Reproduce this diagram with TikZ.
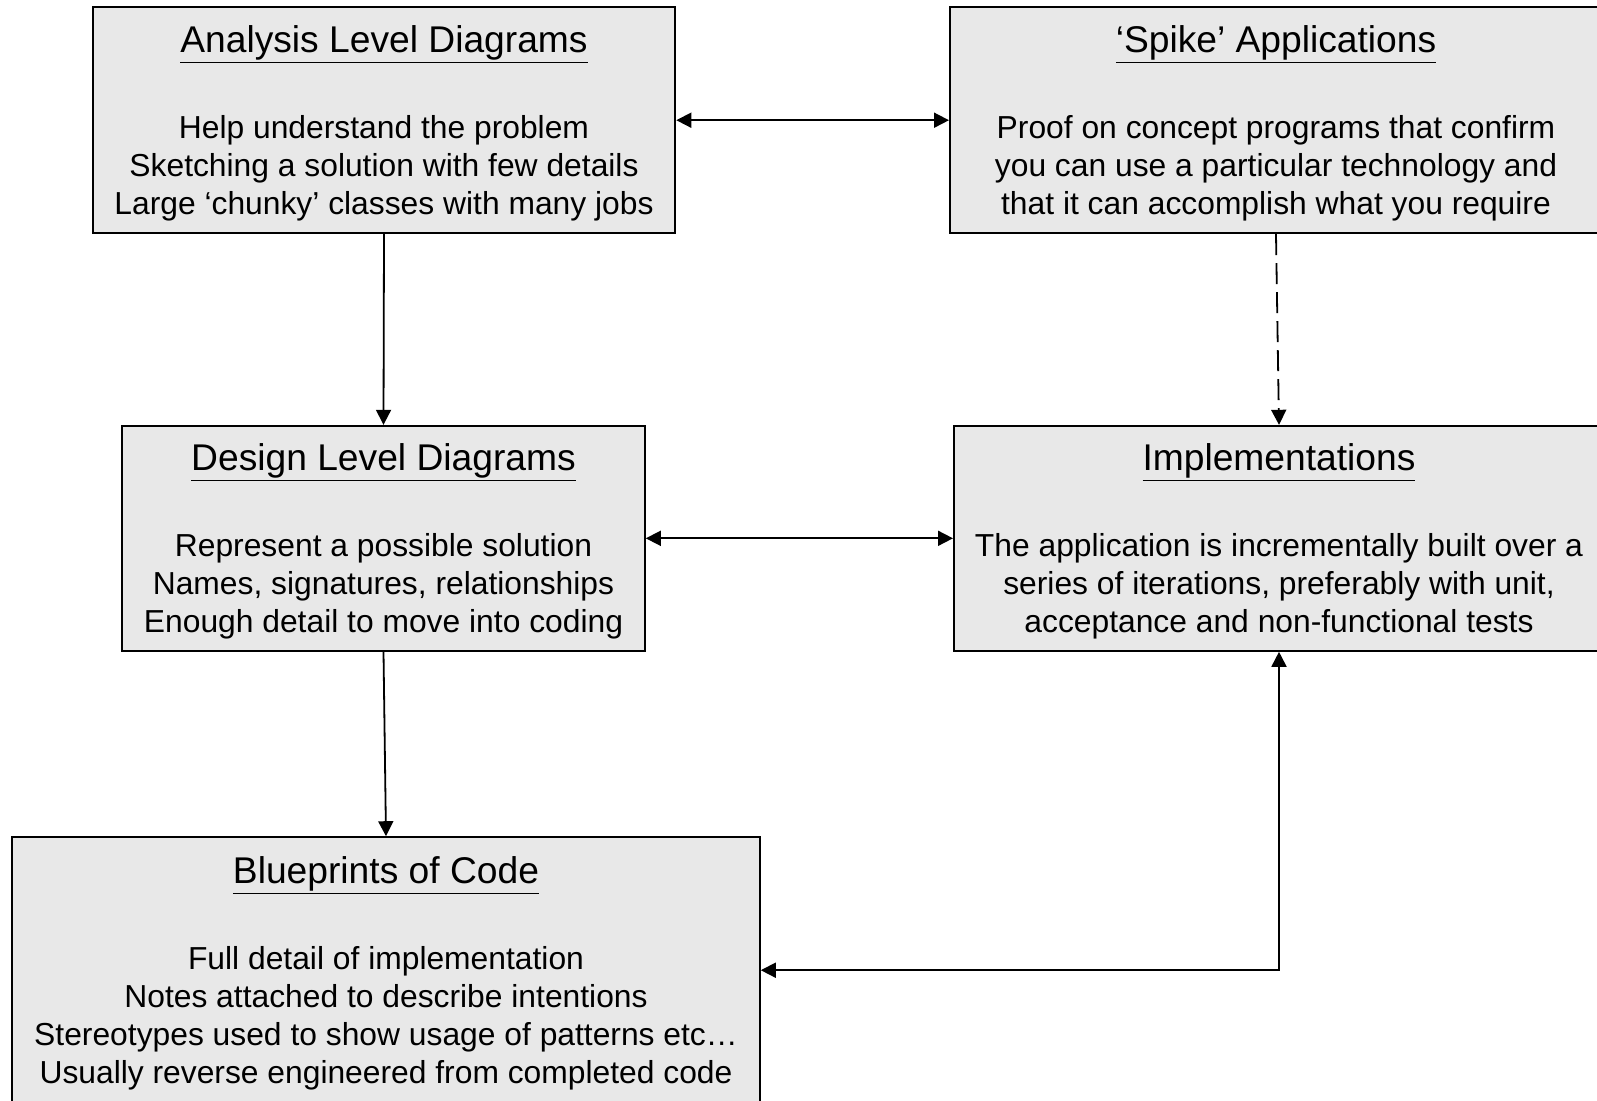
\documentclass[tikz,border=0pt]{standalone}
\usepackage{fontspec}
\setmainfont{Liberation Sans}
\usetikzlibrary{arrows.meta}
\definecolor{boxgrey}{RGB}{232,232,232}

\newcommand{\boxtitle}[1]{{\fontsize{18.6}{19.1}\selectfont\rule{0pt}{16.5pt}\underline{#1}}}

\begin{document}
\begin{tikzpicture}[x=0.5pt,y=-0.5pt]
  \tikzstyle{stage}=[draw=black,line width=1pt,fill=boxgrey,align=center,
    inner sep=0pt,font=\fontsize{15.9}{19.1}\selectfont]
  \tikzstyle{f}=[-{Triangle[length=7.5pt,width=7.5pt]},line width=0.9pt]
  \tikzstyle{ff}=[{Triangle[length=7.5pt,width=7.5pt]}-{Triangle[length=7.5pt,width=7.5pt]},line width=0.9pt]
  \useasboundingbox (0,0) rectangle (1597,1100);

  \node[stage,minimum width=291.3pt,minimum height=113pt] (analysis) at (384,120.2)
    {\boxtitle{Analysis Level Diagrams}\\[24pt]
     Help understand the problem\\
     Sketching a solution with few details\\
     Large ‘chunky’ classes with many jobs};
  \node[stage,minimum width=326pt,minimum height=113pt] (spike) at (1276,120.2)
    {\boxtitle{‘Spike’ Applications}\\[24pt]
     Proof on concept programs that confirm\\
     you can use a particular technology and\\
     that it can accomplish what you require};

  \node[stage,minimum width=261.3pt,minimum height=112.5pt] (design) at (383.5,538.3)
    {\boxtitle{Design Level Diagrams}\\[24pt]
     Represent a possible solution\\
     Names, signatures, relationships\\
     Enough detail to move into coding};
  \node[stage,minimum width=325pt,minimum height=112.5pt] (impl) at (1279,538.3)
    {\boxtitle{Implementations}\\[24pt]
     The application is incrementally built over a\\
     series of iterations, preferably with unit,\\
     acceptance and non-functional tests};

  \node[stage,minimum width=373.8pt,minimum height=133pt] (blueprint) at (386,970.2)
    {\boxtitle{Blueprints of Code}\\[24pt]
     Full detail of implementation\\
     Notes attached to describe intentions\\
     Stereotypes used to show usage of patterns etc…\\
     Usually reverse engineered from completed code};

  \draw[ff] (analysis.east) -- (spike.west);
  \draw[f] (analysis.south) -- (design.north);
  \draw[f,dash pattern=on 10.5pt off 4pt] (spike.south) -- (impl.north);
  \draw[ff] (design.east) -- (impl.west);
  \draw[f] (design.south) -- (blueprint.north);
  \draw[ff] (blueprint.east) -| (impl.south);
\end{tikzpicture}
\end{document}
